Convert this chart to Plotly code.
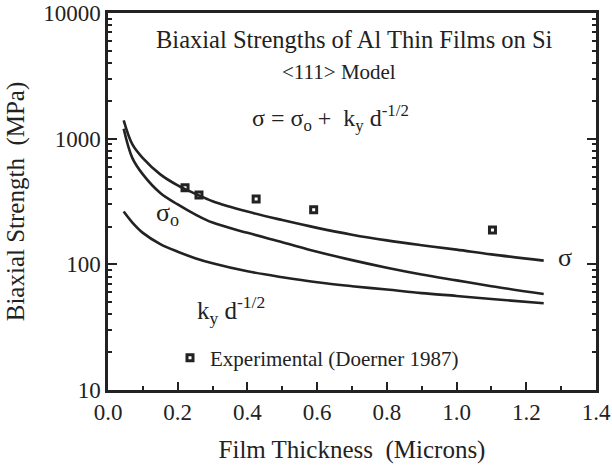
import plotly.graph_objects as go

# Film thickness (microns) for model curves
thickness = [0.045, 0.07, 0.1, 0.15, 0.2, 0.25, 0.3, 0.4, 0.5, 0.6, 0.7, 0.8, 0.9, 1.0, 1.1, 1.25]
# sigma (total) model curve, MPa
sigma_total = [1400, 900, 700, 520, 425, 365, 318, 263, 225, 195, 172, 155, 142, 131, 120, 107]
# sigma_o curve, MPa
sigma_o = [1200, 700, 520, 370, 300, 250, 215, 178, 150, 126, 108, 94, 83, 74.5, 67, 58]
# k_y d^-1/2 curve, MPa
ky_term = [263, 215, 178, 145, 126, 112, 102, 88, 79, 72, 67, 63, 59, 56, 53, 49]

# Experimental data (Doerner 1987)
exp_thickness = [0.221, 0.261, 0.425, 0.590, 1.103]
exp_strength = [407, 356, 331, 272, 188]

x_ticks = [0.0, 0.2, 0.4, 0.6, 0.8, 1.0, 1.2, 1.4]
x_ticktext = ["0.0", "0.2", "0.4", "0.6", "0.8", "1.0", "1.2", "1.4"]
y_ticks = [10, 100, 1000, 10000]
y_ticktext = ["10", "100", "1000", "10000"]

FONT = "Liberation Serif, Times New Roman, serif"
INK = "#222222"

fig = go.Figure()
for ys in (sigma_total, sigma_o, ky_term):
    fig.add_trace(go.Scatter(x=thickness, y=ys, mode="lines", line=dict(color=INK, width=2.6, shape="spline"),
                             showlegend=False, hoverinfo="skip"))

fig.add_trace(go.Scatter(x=exp_thickness, y=exp_strength, mode="markers", name="Experimental (Doerner 1987)",
                         marker=dict(symbol="square-open", size=6, color=INK, line=dict(width=3, color=INK))))

L, R, T, B = 108, 16, 13, 80
W, H = 612, 470
pw, ph = W - L - R, H - T - B

def px(x):
    return (x - L) / pw

def py(y):
    return (H - B - y) / ph

fig.update_layout(
    width=W, height=H,
    margin=dict(l=L, r=R, t=T, b=B),
    paper_bgcolor="white", plot_bgcolor="white",
    font=dict(family=FONT, color=INK, size=20),
    legend=dict(x=px(170), y=py(358), xanchor="left", yanchor="middle", bgcolor="rgba(0,0,0,0)",
                font=dict(size=21, family=FONT, color=INK)),
    xaxis=dict(range=[0, 1.4], tickvals=x_ticks, ticktext=x_ticktext, ticks="inside", ticklen=8, tickwidth=1.5,
               tickcolor=INK, showline=True, linecolor=INK, linewidth=2.5, mirror=True, showgrid=False,
               zeroline=False, automargin=False, tickfont=dict(size=23, family=FONT, color=INK),
               minor=dict(tickvals=[0.1, 0.3, 0.5, 0.7, 0.9, 1.1, 1.3], ticks="inside", ticklen=4, tickcolor=INK),
               title=dict(text="Film Thickness  (Microns)", font=dict(size=25, family=FONT, color=INK), standoff=17)),
    yaxis=dict(type="log", range=[1, 4], tickvals=y_ticks, ticktext=y_ticktext, ticks="inside", ticklen=9,
               tickwidth=1.5, tickcolor=INK, showline=True, linecolor=INK, linewidth=2.5, mirror="allticks",
               showgrid=False, zeroline=False, automargin=False, tickfont=dict(size=23, family=FONT, color=INK),
               minor=dict(tickvals=[m * d for d in (10, 100, 1000) for m in range(2, 10)], ticks="inside",
                          ticklen=4, tickcolor=INK),
               title=dict(text="Biaxial Strength  (MPa)", font=dict(size=25, family=FONT, color=INK), standoff=12)),
)

def note(text, x, y, size, xanchor="left", yanchor="middle"):
    fig.add_annotation(text=text, x=px(x), y=py(y), xref="paper", yref="paper", showarrow=False,
                       xanchor=xanchor, yanchor=yanchor, font=dict(size=size, family=FONT, color=INK))

note("Biaxial Strengths of Al Thin Films on Si", 354, 40, 24.5, xanchor="center")
note("&lt;111&gt; Model", 339, 72, 21, xanchor="center")
note("σ = σ<sub>o</sub> +  k<sub>y</sub> d<sup>-1/2</sup>", 250, 118, 24)
note("σ<sub>o</sub>", 154, 214, 26)
note("k<sub>y</sub> d<sup>-1/2</sup>", 195, 310, 25)
note("σ", 556, 257, 26)

fig.write_html("out.html")
